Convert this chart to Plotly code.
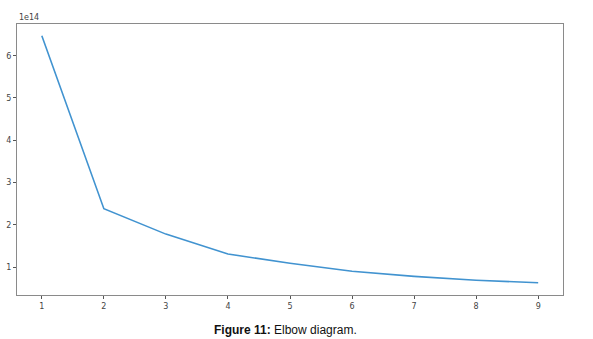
import plotly.graph_objects as go

k_values = [1, 2, 3, 4, 5, 6, 7, 8, 9]
inertia = [6.47e14, 2.38e14, 1.78e14, 1.31e14, 1.09e14, 0.90e14, 0.78e14, 0.69e14, 0.63e14]
y_tick_vals = [1e14, 2e14, 3e14, 4e14, 5e14, 6e14]
y_tick_text = ["1", "2", "3", "4", "5", "6"]
x_tick_vals = [1, 2, 3, 4, 5, 6, 7, 8, 9]

W, H = 593, 339
L, T = 17, 24
R = W - 563
B = H - 295

fig = go.Figure()
fig.add_trace(go.Scatter(x=k_values, y=inertia, mode="lines",
                         line=dict(color="#4193d0", width=1.6), showlegend=False))

axis_common = dict(showgrid=False, zeroline=False, showline=True, mirror=True, automargin=False,
                   linecolor="#8a8a8a", linewidth=1.2, ticks="outside", ticklen=3,
                   tickcolor="#555555", tickfont=dict(family="DejaVu Sans", size=8, color="#444444"))
fig.update_xaxes(range=[0.6, 9.4], tickvals=x_tick_vals, **axis_common)
fig.update_yaxes(range=[0.34e14, 6.75e14], tickvals=y_tick_vals, ticktext=y_tick_text, **axis_common)

fig.add_annotation(text="1e14", xref="paper", yref="paper", x=0, y=1, xanchor="left", yanchor="bottom",
                   showarrow=False, font=dict(family="DejaVu Sans", size=8, color="#444444"), yshift=0)
pw, ph = W - L - R, H - T - B
fig.add_annotation(text="<b>Figure 11:</b> Elbow diagram.", xref="paper", yref="paper",
                   x=(285.5 - L) / pw, y=-(329.5 - (H - B)) / ph,
                   xanchor="center", yanchor="middle", showarrow=False,
                   font=dict(family="Liberation Sans", size=12, color="#111111"))

fig.update_layout(width=W, height=H, margin=dict(l=L, r=R, t=T, b=B, autoexpand=False),
                  paper_bgcolor="white", plot_bgcolor="white")
fig.write_html("out.html", config={"displayModeBar": False},
               post_script="document.body.style.margin='0px';document.body.style.padding='0px';")
